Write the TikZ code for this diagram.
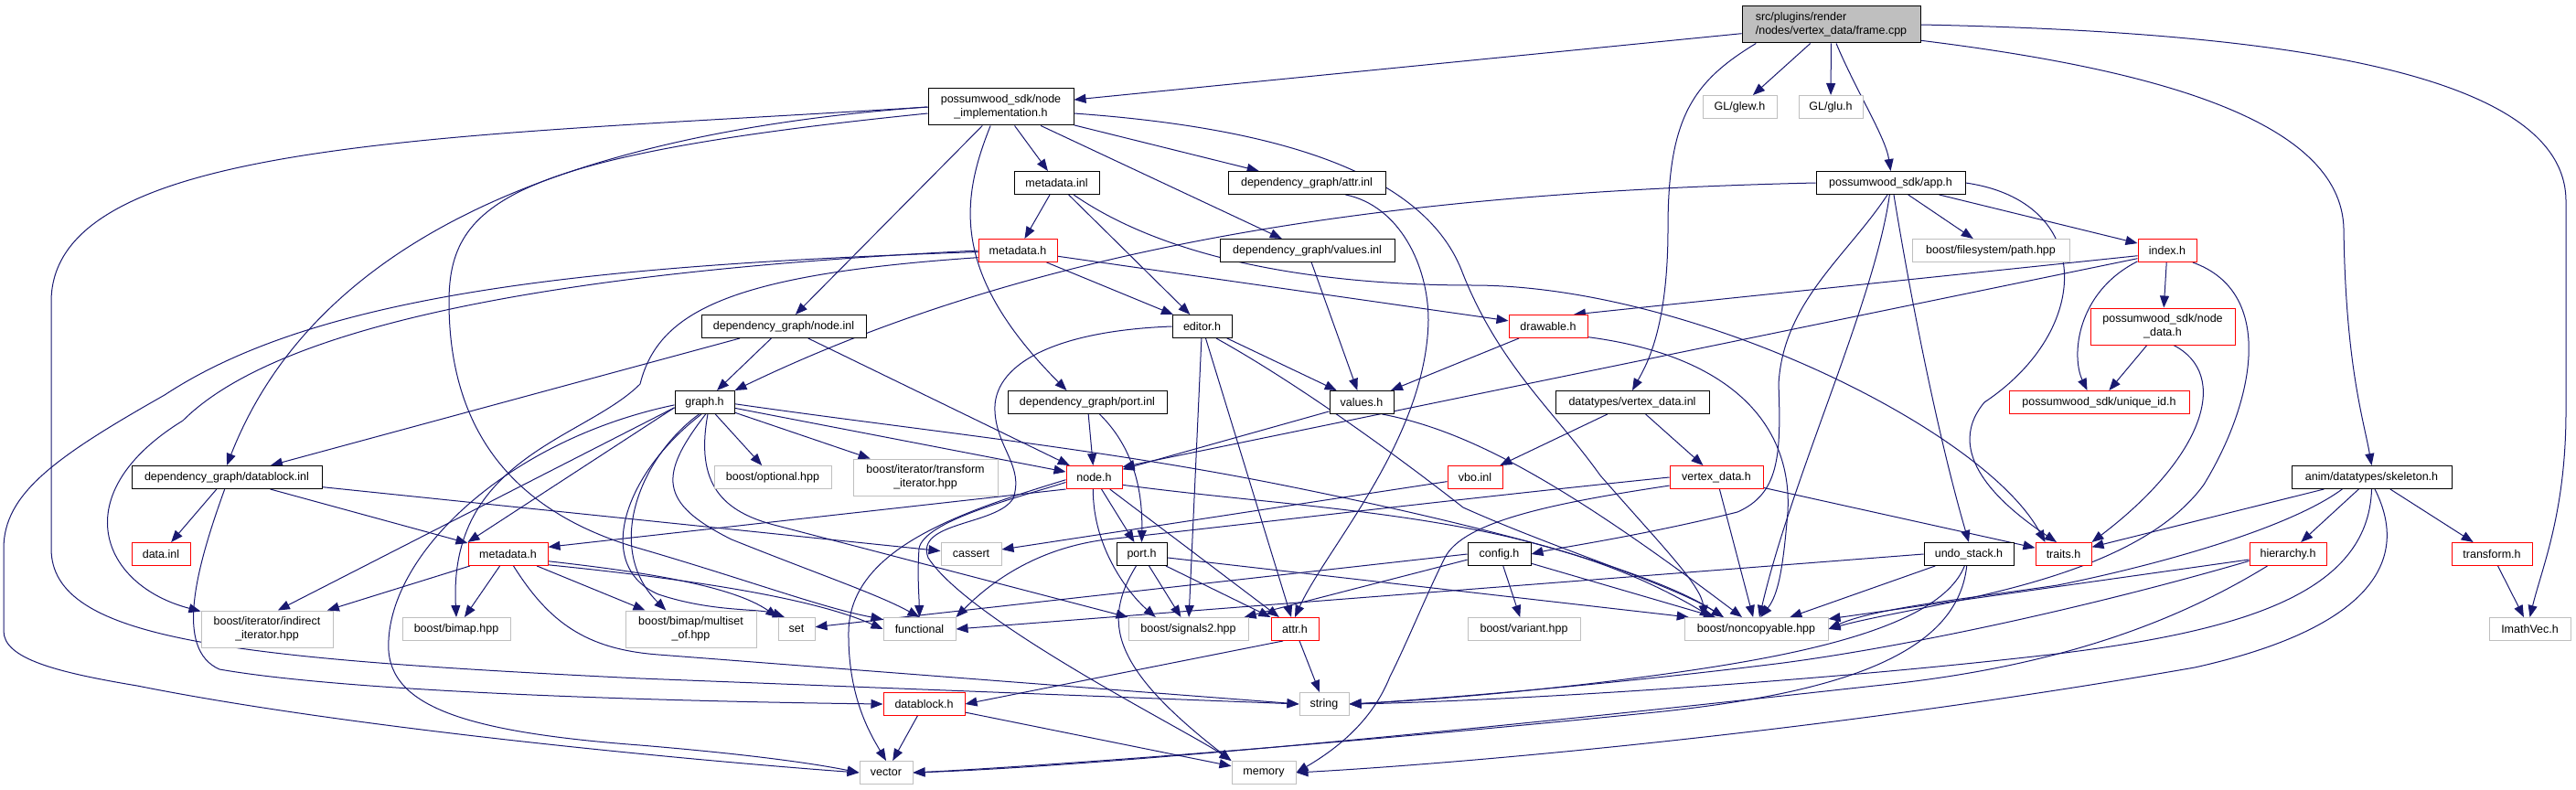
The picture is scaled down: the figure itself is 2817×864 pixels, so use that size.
\documentclass[tikz,border=0pt]{standalone}
\usepackage{fontspec}
\setmainfont{Liberation Sans}
\usetikzlibrary{arrows.meta,backgrounds}

\definecolor{edgeblue}{HTML}{191970}
\definecolor{extgray}{HTML}{BFBFBF}

\begin{document}
\begin{tikzpicture}[
    x=1pt, y=-1pt,
    every node/.style={font=\fontsize{12.5}{15}\selectfont},
    box/.style={
        draw=black,
        fill=white,
        rectangle,
        inner sep=0pt,
        align=center,
        minimum height=25pt,
        line width=1pt
    },
    redbox/.style={box, draw=red},
    extbox/.style={box, draw=extgray},
    srcbox/.style={box, fill=extgray, align=left},
    arrow/.style={
        -{Triangle[length=13pt,width=10pt]},
        draw=edgeblue,
        line width=1pt
    }
    ]
    \useasboundingbox (0,0) rectangle (2817,864);

    % rank 1 and 2
    \node[srcbox, minimum width=195pt, minimum height=40pt] (frame) at (2002.5,27)
    {src/plugins/render\\/nodes/vertex\_data/frame.cpp};
    \node[box, minimum width=159pt, minimum height=40pt] (nimpl) at (1094.5,117)
    {possumwood\_sdk/node\\\_implementation.h};
    \node[extbox, minimum width=81pt] (glew) at (1902.5,117) {GL/glew.h};
    \node[extbox, minimum width=70pt] (glu) at (2002,117) {GL/glu.h};

    % rank 3 and 4
    \node[box, minimum width=93pt] (minl) at (1155.5,200) {metadata.inl};
    \node[box, minimum width=172pt] (attrinl) at (1429,200) {dependency\_graph/attr.inl};
    \node[box, minimum width=163pt] (app) at (2067.5,200) {possumwood\_sdk/app.h};
    \node[redbox, minimum width=86pt] (mdh) at (1113,274) {metadata.h};
    \node[box, minimum width=191pt] (valinl) at (1429.5,274) {dependency\_graph/values.inl};
    \node[extbox, minimum width=172pt] (fspath) at (2177,274) {boost/filesystem/path.hpp};
    \node[redbox, minimum width=64pt] (index) at (2370,274) {index.h};

    % rank 5 and 6
    \node[box, minimum width=180pt] (nodeinl) at (857,357) {dependency\_graph/node.inl};
    \node[box, minimum width=65pt] (editor) at (1314.5,357) {editor.h};
    \node[redbox, minimum width=86pt] (drawable) at (1693,357) {drawable.h};
    \node[redbox, minimum width=158pt, minimum height=40pt] (nodedata) at (2365,357)
    {possumwood\_sdk/node\\\_data.h};
    \node[box, minimum width=65pt] (graph) at (770.5,440) {graph.h};
    \node[box, minimum width=174pt] (portinl) at (1189,440) {dependency\_graph/port.inl};
    \node[box, minimum width=70pt] (values) at (1489,440) {values.h};
    \node[box, minimum width=168pt] (vdinl) at (1785,440) {datatypes/vertex\_data.inl};
    \node[redbox, minimum width=197pt] (uid) at (2295.5,440) {possumwood\_sdk/unique\_id.h};

    % rank 7 and 8
    \node[box, minimum width=208pt] (dbinl) at (248,522) {dependency\_graph/datablock.inl};
    \node[extbox, minimum width=128pt] (optional) at (845,522) {boost/optional.hpp};
    \node[extbox, minimum width=158pt, minimum height=40pt] (transit) at (1012,522)
    {boost/iterator/transform\\\_iterator.hpp};
    \node[redbox, minimum width=61pt] (nodeh) at (1196.5,522) {node.h};
    \node[redbox, minimum width=60pt] (vbo) at (1613,522) {vbo.inl};
    \node[redbox, minimum width=102pt] (vdh) at (1877,522) {vertex\_data.h};
    \node[box, minimum width=175pt] (skel) at (2593.5,522) {anim/datatypes/skeleton.h};
    \node[redbox, minimum width=64pt] (datainl) at (176,606) {data.inl};
    \node[redbox, minimum width=87pt] (md2) at (555.5,606) {metadata.h};
    \node[extbox, minimum width=66pt] (cassert) at (1062,606) {cassert};
    \node[box, minimum width=55pt] (porth) at (1248.5,606) {port.h};
    \node[box, minimum width=69pt] (config) at (1639.5,606) {config.h};
    \node[box, minimum width=98pt] (undo) at (2153,606) {undo\_stack.h};
    \node[redbox, minimum width=61pt] (traits) at (2256.5,606) {traits.h};
    \node[redbox, minimum width=84pt] (hier) at (2502,606) {hierarchy.h};
    \node[redbox, minimum width=88pt] (transf) at (2725,606) {transform.h};

    % rank 9 to 11
    \node[extbox, minimum width=144pt, minimum height=40pt] (indit) at (292,688)
    {boost/iterator/indirect\\\_iterator.hpp};
    \node[extbox, minimum width=118pt] (bimap) at (499,688) {boost/bimap.hpp};
    \node[extbox, minimum width=143pt, minimum height=40pt] (multiset) at (755.5,688)
    {boost/bimap/multiset\\\_of.hpp};
    \node[extbox, minimum width=40pt] (set) at (871,688) {set};
    \node[extbox, minimum width=79pt] (functional) at (1005.5,688) {functional};
    \node[extbox, minimum width=131pt] (signals) at (1299.5,688) {boost/signals2.hpp};
    \node[redbox, minimum width=52pt] (attrh) at (1416,688) {attr.h};
    \node[extbox, minimum width=123pt] (variant) at (1666.5,688) {boost/variant.hpp};
    \node[extbox, minimum width=157pt] (noncopy) at (1920.5,688) {boost/noncopyable.hpp};
    \node[extbox, minimum width=89pt] (imath) at (2766.5,688) {ImathVec.h};
    \node[redbox, minimum width=89pt] (dbh) at (1010.5,770) {datablock.h};
    \node[extbox, minimum width=54pt] (string) at (1448,770) {string};
    \node[extbox, minimum width=58pt] (vector) at (969,845) {vector};
    \node[extbox, minimum width=70pt] (memory) at (1382,845) {memory};

    \begin{scope}[on background layer]
    % frame.cpp
    \draw[arrow] (frame) -- (nimpl);
    \draw[arrow] (frame) -- (glew);
    \draw[arrow] (frame) -- (glu);
    \draw[arrow] (frame.-75) .. controls (2030,100) and (2062,150) .. (app.north);
    \draw[arrow] (frame.-166) .. controls (1850,90) and (1824,130) .. (1824,250)
        .. controls (1824,360) and (1800,400) .. (vdinl.north);
    \draw[arrow] (frame.-10) .. controls (2350,75) and (2560,130) .. (2563,250)
        .. controls (2565,400) and (2585,460) .. (skel.north);
    \draw[arrow] (frame.east) .. controls (2500,35) and (2806,80) .. (2806,220) -- (2806,450)
        .. controls (2806,560) and (2780,620) .. (imath.north);

    % node_implementation.h
    \draw[arrow] (nimpl) -- (minl);
    \draw[arrow] (nimpl) -- (attrinl);
    \draw[arrow] (nimpl) -- (valinl);
    \draw[arrow] (nimpl) -- (nodeinl);
    \draw[arrow] (nimpl.-119) .. controls (1050,220) and (1040,300) .. (portinl.150);
    \draw[arrow] (nimpl.-5) .. controls (1400,140) and (1560,190) .. (1600,300)
        .. controls (1640,400) and (1700,450) .. (1750,520)
        .. controls (1820,600) and (1860,640) .. (noncopy.167);
    \draw[arrow] (nimpl.west) .. controls (550,150) and (330,300) .. (dbinl.north);
    \draw[arrow] (nimpl.west) .. controls (500,150) and (56,150) .. (56,330) -- (56,600)
        .. controls (56,700) and (250,720) .. (700,742) -- (string.west);
    \draw[arrow] (nimpl.-175) .. controls (560,170) and (491,220) .. (491,330)
        .. controls (491,470) and (560,560) .. (700,600)
        .. controls (820,635) and (900,665) .. (functional.165);

    % metadata.inl, attr.inl
    \draw[arrow] (minl) -- (mdh);
    \draw[arrow] (minl) -- (editor);
    \draw[arrow] (minl.-35) .. controls (1300,300) and (1500,312) .. (1610,312)
        .. controls (1850,312) and (2170,470) .. (traits.147);
    \draw[arrow] (attrinl.-17) .. controls (1530,225) and (1562,290) .. (1562,350)
        .. controls (1560,480) and (1450,600) .. (attrh.north);

    % app.h
    \draw[arrow] (app) -- (fspath);
    \draw[arrow] (app) -- (index);
    \draw[arrow] (app.west) .. controls (1550,210) and (1150,260) .. (graph.north east);
    \draw[arrow] (app.-95) .. controls (2050,330) and (1960,520) .. (noncopy.75);
    \draw[arrow] (app.-105) .. controls (2020,280) and (1950,330) .. (1945,420)
        .. controls (1948,500) and (1945,540) .. (1900,560)
        .. controls (1800,585) and (1700,600) .. (config.east);
    \draw[arrow] (app.east) .. controls (2290,220) and (2290,360) .. (2170,440)
        .. controls (2120,500) and (2200,560) .. (traits.120);
    \draw[arrow] (app.-75) .. controls (2090,330) and (2120,480) .. (undo.north);

    % metadata.h (sdk)
    \draw[arrow] (mdh) -- (editor);
    \draw[arrow] (mdh) -- (drawable);
    \draw[arrow] (mdh.west) .. controls (750,290) and (330,330) .. (200,460)
        .. controls (70,540) and (110,640) .. (indit.165);
    \draw[arrow] (mdh.-178) .. controls (650,290) and (350,320) .. (180,432)
        .. controls (60,500) and (4,540) .. (4,600) -- (4,690)
        .. controls (4,720) and (60,735) .. (150,750)
        .. controls (400,800) and (800,835) .. (vector.west);
    \draw[arrow] (mdh.-170) .. controls (800,300) and (720,340) .. (700,420)
        .. controls (640,480) and (490,500) .. (bimap.north);

    % index.h, node_data.h
    \draw[arrow] (index) -- (nodedata);
    \draw[arrow] (index.-160) .. controls (2270,320) and (2265,390) .. (uid.135);
    \draw[arrow] (index.-170) -- (drawable.25);
    \draw[arrow] (index.-165) -- (nodeh.20);
    \draw[arrow] (index.-25) .. controls (2490,320) and (2465,440) .. (2410,530)
        .. controls (2330,640) and (2100,660) .. (noncopy.east);
    \draw[arrow] (nodedata) -- (uid);
    \draw[arrow] (nodedata.-60) .. controls (2440,410) and (2410,500) .. (traits.north east);

    % values, drawable, editor
    \draw[arrow] (valinl) -- (values);
    \draw[arrow] (values) -- (nodeh);
    \draw[arrow] (values.-30) .. controls (1600,470) and (1700,520) .. (noncopy.140);
    \draw[arrow] (drawable) -- (values);
    \draw[arrow] (drawable.-15) .. controls (1900,390) and (1960,470) .. (1955,560)
        .. controls (1950,620) and (1945,650) .. (noncopy.70);
    \draw[arrow] (editor) -- (values);
    \draw[arrow] (editor) -- (attrh);
    \draw[arrow] (editor) -- (signals);
    \draw[arrow] (editor.-40) .. controls (1420,420) and (1530,500) .. (1600,555)
        .. controls (1700,600) and (1830,640) .. (noncopy.160);
    \draw[arrow] (editor.west) .. controls (1150,362) and (1085,400) .. (1088,450)
        .. controls (1090,490) and (1120,510) .. (1108,545)
        .. controls (1090,575) and (1000,570) .. (1015,610)
        .. controls (1060,680) and (1300,800) .. (memory.north west);

    % port.inl, vertex_data.inl
    \draw[arrow] (portinl) -- (nodeh);
    \draw[arrow] (portinl.-44) .. controls (1230,480) and (1250,520) .. (porth.north);
    \draw[arrow] (vdinl) -- (vbo);
    \draw[arrow] (vdinl) -- (vdh);
    \draw[arrow] (vbo) -- (cassert);

    % vertex_data.h
    \draw[arrow] (vdh) -- (traits);
    \draw[arrow] (vdh) -- (noncopy);
    \draw[arrow] (vdh.west) .. controls (1600,545) and (1350,575) .. (1210,590)
        .. controls (1130,600) and (1080,640) .. (functional.north east);
    \draw[arrow] (vdh.-170) .. controls (1700,550) and (1600,570) .. (1580,610)
        .. controls (1560,650) and (1540,700) .. (1520,740)
        .. controls (1500,790) and (1460,820) .. (memory.east);

    % config.h, undo_stack.h
    \draw[arrow] (config.180) -- (set);
    \draw[arrow] (config.-170) -- (signals.12);
    \draw[arrow] (config) -- (variant);
    \draw[arrow] (config) -- (noncopy);
    \draw[arrow] (undo.west) -- (functional.east);
    \draw[arrow] (undo) -- (noncopy);
    \draw[arrow] (undo.-110) .. controls (2120,690) and (1950,720) .. (1800,740)
        .. controls (1650,760) and (1520,768) .. (string.east);
    \draw[arrow] (undo.-100) .. controls (2140,720) and (2000,760) .. (1800,780)
        .. controls (1400,820) and (1100,840) .. (vector.east);

    % skeleton.h, hierarchy.h, transform.h
    \draw[arrow] (skel) -- (traits);
    \draw[arrow] (skel) -- (hier);
    \draw[arrow] (skel) -- (transf);
    \draw[arrow] (skel.-158) .. controls (2500,580) and (2350,620) .. (2250,640)
        .. controls (2150,655) and (2050,665) .. (noncopy.east);
    \draw[arrow] (skel.-90) .. controls (2590,650) and (2450,690) .. (2250,715)
        .. controls (1950,750) and (1600,768) .. (string.east);
    \draw[arrow] (skel.-75) .. controls (2640,620) and (2580,690) .. (2400,730)
        .. controls (2000,800) and (1600,835) .. (memory.east);
    \draw[arrow] (hier) -- (noncopy);
    \draw[arrow] (hier.-170) .. controls (2300,660) and (2100,705) .. (1950,725)
        .. controls (1750,750) and (1550,766) .. (string.east);
    \draw[arrow] (hier.-150) .. controls (2380,680) and (2250,730) .. (2050,750)
        .. controls (1600,800) and (1200,838) .. (vector.east);
    \draw[arrow] (transf) -- (imath);

    % dependency_graph/metadata.h
    \draw[arrow] (md2) -- (indit);
    \draw[arrow] (md2) -- (bimap);
    \draw[arrow] (md2) -- (multiset);
    \draw[arrow] (md2.-10) .. controls (700,625) and (800,640) .. (set.north west);
    \draw[arrow] (md2.-15) .. controls (720,630) and (880,650) .. (functional.west);
    \draw[arrow] (md2.-65) .. controls (600,680) and (640,710) .. (720,716) -- (string.west);

    % port.h, attr.h, datablock.h
    \draw[arrow] (porth) -- (signals);
    \draw[arrow] (porth) -- (attrh);
    \draw[arrow] (porth.-8) -- (noncopy.170);
    \draw[arrow] (porth.-115) .. controls (1205,680) and (1215,730) .. (memory.north west);
    \draw[arrow] (attrh.-135) -- (dbh.east);
    \draw[arrow] (attrh) -- (string);
    \draw[arrow] (dbh) -- (vector);
    \draw[arrow] (dbh) -- (memory);

    % datablock.inl, node.inl
    \draw[arrow] (dbinl) -- (datainl);
    \draw[arrow] (dbinl) -- (md2);
    \draw[arrow] (dbinl) -- (cassert);
    \draw[arrow] (dbinl.-100) .. controls (215,620) and (190,710) .. (240,732)
        .. controls (400,760) and (800,768) .. (dbh.west);
    \draw[arrow] (nodeinl) -- (graph);
    \draw[arrow] (nodeinl) -- (dbinl);
    \draw[arrow] (nodeinl) -- (nodeh);

    % graph.h
    \draw[arrow] (graph) -- (optional);
    \draw[arrow] (graph) -- (transit);
    \draw[arrow] (graph) -- (nodeh);
    \draw[arrow] (graph.-170) -- (md2.north west);
    \draw[arrow] (graph.-170) -- (indit.60);
    \draw[arrow] (graph.-175) .. controls (560,480) and (430,600) .. (425,700)
        .. controls (420,770) and (500,800) .. (700,815)
        .. controls (820,825) and (890,835) .. (vector.west);
    \draw[arrow] (graph.-115) .. controls (700,500) and (660,600) .. (multiset.143);
    \draw[arrow] (graph.-105) .. controls (680,520) and (650,620) .. (720,650)
        .. controls (780,670) and (830,665) .. (set.135);
    \draw[arrow] (graph.-85) .. controls (720,520) and (720,550) .. (800,590)
        .. controls (900,630) and (960,650) .. (functional.north);
    \draw[arrow] (graph.-75) .. controls (760,530) and (790,560) .. (850,575) -- (signals.north west);
    \draw[arrow] (graph.-3) .. controls (1000,470) and (1200,490) .. (1400,530)
        .. controls (1600,570) and (1800,620) .. (noncopy.160);

    % node.h
    \draw[arrow] (nodeh.south west) -- (md2.10);
    \draw[arrow] (nodeh) -- (porth);
    \draw[arrow] (nodeh.-95) .. controls (1195,600) and (1235,650) .. (signals.160);
    \draw[arrow] (nodeh) -- (attrh);
    \draw[arrow] (nodeh.-15) .. controls (1450,560) and (1680,560) .. (noncopy.165);
    \draw[arrow] (nodeh.-170) .. controls (1110,545) and (1010,570) .. (1005,600)
        .. controls (1003,630) and (1005,650) .. (functional.north);
    \draw[arrow] (nodeh.-175) .. controls (1050,560) and (930,600) .. (928,690)
        .. controls (927,760) and (950,800) .. (vector.north);
    \end{scope}
\end{tikzpicture}
\end{document}
